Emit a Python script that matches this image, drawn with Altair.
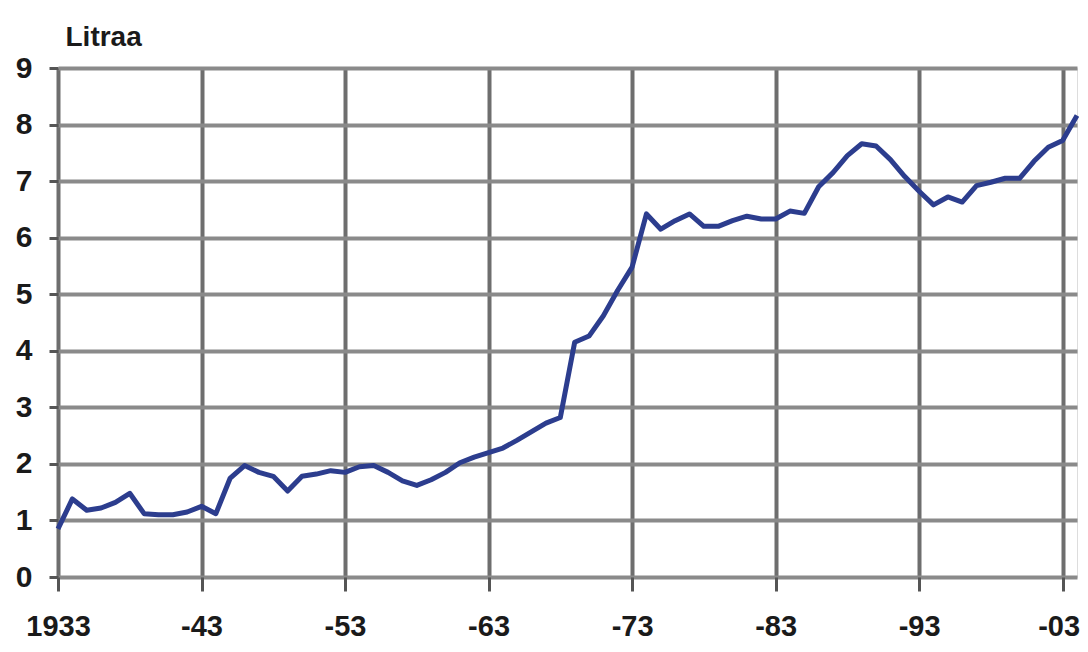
import altair as alt
import pandas as pd

years = list(range(1933, 2005))
litres = [
    0.85, 1.38, 1.18, 1.22, 1.32, 1.48, 1.12, 1.10, 1.10, 1.15,   # 1933-1942
    1.25, 1.12, 1.75, 1.97, 1.85, 1.78, 1.52, 1.78, 1.82, 1.88,   # 1943-1952
    1.85, 1.95, 1.97, 1.85, 1.70, 1.62, 1.72, 1.85, 2.02, 2.12,   # 1953-1962
    2.20, 2.28, 2.42, 2.57, 2.72, 2.82, 4.15, 4.26, 4.62, 5.07,   # 1963-1972
    5.48, 6.42, 6.15, 6.30, 6.42, 6.20, 6.20, 6.30, 6.38, 6.33,   # 1973-1982
    6.33, 6.47, 6.43, 6.90, 7.15, 7.45, 7.66, 7.62, 7.38, 7.08,   # 1983-1992
    6.82, 6.58, 6.72, 6.63, 6.92, 6.98, 7.05, 7.05, 7.35, 7.60,   # 1993-2002
    7.72, 8.16,                                                   # 2003-2004
]
x_ticks = [1933, 1943, 1953, 1963, 1973, 1983, 1993, 2003]
x_labels = ["1933", "-43", "-53", "-63", "-73", "-83", "-93", "-03"]
y_ticks = [0, 1, 2, 3, 4, 5, 6, 7, 8, 9]

df = pd.DataFrame({"year": years, "litres": litres})

label_expr = " : ".join(
    f"datum.value == {v} ? '{t}'" for v, t in zip(x_ticks, x_labels)
) + " : ''"

FONT = "Liberation Sans"

chart = (
    alt.Chart(df)
    .mark_line(color="#2c3d8e", strokeWidth=5, strokeJoin="round")
    .encode(
        x=alt.X(
            "year:Q",
            scale=alt.Scale(domain=[1933, 2004], nice=False, zero=False),
            axis=alt.Axis(
                values=x_ticks,
                labelExpr=label_expr,
                title=None,
                domain=False,
                grid=True,
                gridColor="#6e6e6e",
                gridWidth=4,
                gridOpacity=1,
                ticks=True,
                tickSize=14,
                tickWidth=3,
                tickColor="#555555",
                labelFont=FONT,
                labelFontSize=29,
                labelFontWeight="bold",
                labelColor="#1a1a1a",
                labelPadding=21,
                labelBaseline="top",
                labelFlush=False,
                labelOverlap=False,
                labelOffset={"condition": {"test": "datum.value == 2003", "value": -4}, "value": 0},
            ),
        ),
        y=alt.Y(
            "litres:Q",
            scale=alt.Scale(domain=[0, 9], nice=False),
            axis=alt.Axis(
                values=y_ticks,
                title="Litraa",
                titleAngle=0,
                titleAlign="left",
                titleBaseline="alphabetic",
                titleX=7,
                titleY=-23,
                titleFont=FONT,
                titleFontSize=28,
                titleFontWeight="bold",
                titleColor="#1a1a1a",
                domain=False,
                grid=True,
                gridColor="#8a8a8a",
                gridWidth=4,
                gridOpacity=1,
                ticks=True,
                tickSize=9,
                tickWidth=3,
                tickColor="#555555",
                labelFont=FONT,
                labelFontSize=30,
                labelFontWeight="bold",
                labelColor="#1a1a1a",
                labelPadding=17,
                labelOverlap=False,
            ),
        ),
    )
    .properties(
        width=1019,
        height=509,
        autosize=alt.AutoSizeParams(type="none"),
        padding={"left": 50, "top": 60, "right": 3, "bottom": 67},
    )
    .configure_view(stroke="#8a8a8a", strokeWidth=4)
    .configure(background="white")
)

chart.save("out.html", embed_options={"renderer": "svg", "actions": False})
